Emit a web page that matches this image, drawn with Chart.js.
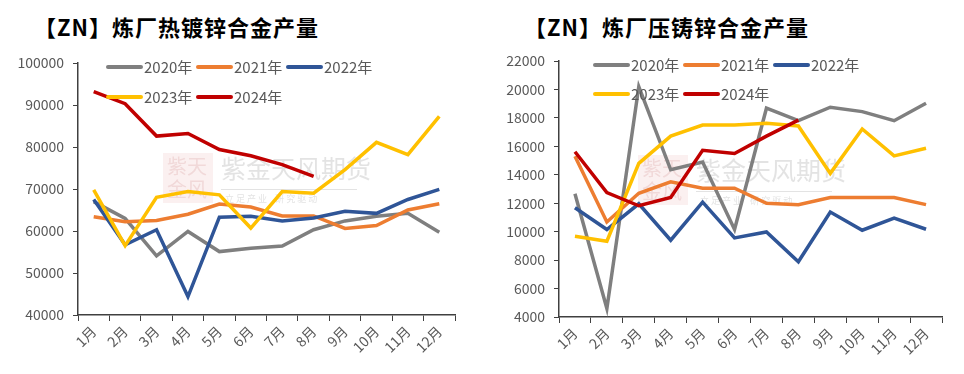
<!DOCTYPE html>
<html>
<head>
<meta charset="utf-8">
<script src="https://cdn.jsdelivr.net/npm/chart.js@4.4.1/dist/chart.umd.min.js"></script>
<style>
  body { margin: 0; background: #fff; }
  .box { position: absolute; top: 0; width: 482px; height: 374px; }
  .title { position: absolute; top: 10px; font: bold 22px "Noto Sans CJK SC", sans-serif; color: #000; white-space: nowrap; letter-spacing: 1px; }
  canvas { position: absolute; left: 0; top: 0; }
</style>
</head>
<body>
<div class="box" style="left:0">
  <div class="title" style="left:34px">【ZN】炼厂热镀锌合金产量</div>
  <canvas id="hotChart" width="482" height="374"></canvas>
</div>
<div class="box" style="left:482px">
  <div class="title" style="left:42px">【ZN】炼厂压铸锌合金产量</div>
  <canvas id="dieChart" width="482" height="374"></canvas>
</div>
<script>
// define constants
const FONT = '"Noto Sans CJK SC", "Open Sans", sans-serif';
const COLOR_TEXT = "#595959";
const COLORS = ["#7f7f7f", "#ed7d31", "#2f5597", "#ffc000", "#c00000"];

// categories and series labels
const months = ["1月", "2月", "3月", "4月", "5月", "6月", "7月", "8月", "9月", "10月", "11月", "12月"];
const years = ["2020年", "2021年", "2022年", "2023年", "2024年"];

// 热镀锌合金 (left)
const hot2020 = [67000, 63000, 54100, 59900, 55100, 55900, 56400, 60300, 62400, 63500, 64200, 59700];
const hot2021 = [63400, 62200, 62500, 64000, 66400, 65700, 63600, 63600, 60600, 61300, 65000, 66500];
const hot2022 = [67500, 56700, 60300, 44400, 63300, 63500, 62400, 63100, 64700, 64200, 67500, 69900];
const hot2023 = [69800, 56500, 68000, 69400, 68600, 60700, 69400, 69000, 74600, 81100, 78200, 87300];
const hot2024 = [93200, 90300, 82600, 83200, 79400, 77900, 75800, 73000];
const hotTicks = [40000, 100000, 10000];

// 压铸锌合金 (right)
const die2020 = [12670, 4600, 20200, 14350, 14900, 10150, 18680, 17800, 18750, 18440, 17800, 19030];
const die2021 = [15300, 10680, 12700, 13500, 13050, 13050, 12000, 11900, 12400, 12400, 12400, 11900];
const die2022 = [11680, 10150, 11960, 9400, 12080, 9560, 9980, 7880, 11380, 10100, 10960, 10170];
const die2023 = [9680, 9330, 14800, 16720, 17500, 17500, 17620, 17430, 14100, 17220, 15330, 15860];
const die2024 = [15620, 12750, 11820, 12400, 15720, 15500, 16720, 17840];
const dieTicks = [4000, 22000, 2000];

// legend drawn inside the plot, two rows, like the original
const legendPlugin = {
  id: "rowLegend",
  afterDraw(chart, args, opts) {
    const ctx = chart.ctx;
    ctx.save();
    ctx.font = "15px " + FONT;
    ctx.textBaseline = "middle";
    chart.data.datasets.forEach((ds, i) => {
      const row = i < 3 ? 0 : 1;
      const col = i < 3 ? i : i - 3;
      const x = opts.x + col * opts.step;
      const y = opts.rows[row];
      ctx.strokeStyle = ds.borderColor;
      ctx.lineWidth = 4;
      ctx.lineCap = "round";
      ctx.beginPath();
      ctx.moveTo(x, y);
      ctx.lineTo(x + 33, y);
      ctx.stroke();
      ctx.fillStyle = COLOR_TEXT;
      ctx.fillText(ds.label, x + 36, y);
    });
    ctx.restore();
  }
};

// faint company watermark behind the lines
const watermarkPlugin = {
  id: "watermark",
  beforeDatasetsDraw(chart, args, opts) {
    const ctx = chart.ctx;
    const x = opts.x, y = opts.y;
    ctx.save();
    ctx.fillStyle = "rgba(235, 185, 185, 0.22)";
    ctx.fillRect(x, y, 50, 50);
    ctx.fillStyle = "rgba(205, 130, 130, 0.22)";
    ctx.font = "20px " + FONT;
    ctx.textBaseline = "top";
    ctx.fillText("紫天", x + 4, y + 3);
    ctx.fillText("金风", x + 4, y + 26);
    ctx.fillStyle = "rgba(200, 200, 200, 0.5)";
    ctx.font = "25px " + FONT;
    ctx.fillText("紫金天风期货", x + 58, y + 3);
    ctx.fillRect(x + 58, y + 36, 136, 1);
    ctx.font = "9px " + FONT;
    ctx.fillText("立 足 产 业    研 究 驱 动", x + 62, y + 41);
    ctx.restore();
  }
};

function makeDatasets(series) {
  return series.map((values, i) => ({
    label: years[i],
    data: values,
    borderColor: COLORS[i],
    backgroundColor: COLORS[i],
    borderWidth: 3.5,
    pointRadius: 0,
    tension: 0,
    // draw 2020 first, 2024 last
    order: series.length - i,
  }));
}

function createLineChart(canvasId, series, ticks, box) {
  const ctx = document.getElementById(canvasId).getContext("2d");
  return new Chart(ctx, {
    type: "line",
    data: { labels: months, datasets: makeDatasets(series) },
    plugins: [watermarkPlugin, legendPlugin],
    options: {
      responsive: false,
      animation: false,
      layout: { padding: { left: 0, right: box.right, top: box.top, bottom: 0 } },
      scales: {
        x: {
          offset: true,
          grid: { display: true, drawOnChartArea: false, offset: true, color: "#404040", tickLength: 6 },
          border: { display: true, color: "#404040", width: 1.5 },
          ticks: {
            color: COLOR_TEXT,
            font: { family: FONT, size: 14 },
            maxRotation: 45,
            minRotation: 45,
            padding: 2,
          },
          afterFit: (scale) => { scale.height = box.xHeight; },
        },
        y: {
          min: ticks[0],
          max: ticks[1],
          grid: { display: true, drawOnChartArea: false, color: "#404040", tickLength: 5 },
          border: { display: true, color: "#404040", width: 1.5 },
          ticks: {
            stepSize: ticks[2],
            color: COLOR_TEXT,
            font: { family: FONT, size: 14 },
            padding: 9,
            callback: (val) => String(val),
          },
          afterFit: (scale) => { scale.width = box.left; },
        },
      },
      plugins: {
        legend: { display: false },
        tooltip: { enabled: false },
        rowLegend: box.legend,
        watermark: box.mark,
      },
    },
  });
}

createLineChart("hotChart", [hot2020, hot2021, hot2022, hot2023, hot2024], hotTicks, {
  left: 78, right: 27, top: 63, xHeight: 59,
  legend: { x: 108, step: 90, rows: [67, 97] },
  mark: { x: 163, y: 153 },
});

createLineChart("dieChart", [die2020, die2021, die2022, die2023, die2024], dieTicks, {
  left: 77, right: 22, top: 61, xHeight: 57,
  legend: { x: 113, step: 90, rows: [65, 94] },
  mark: { x: 156, y: 155 },
});
</script>
</body>
</html>
